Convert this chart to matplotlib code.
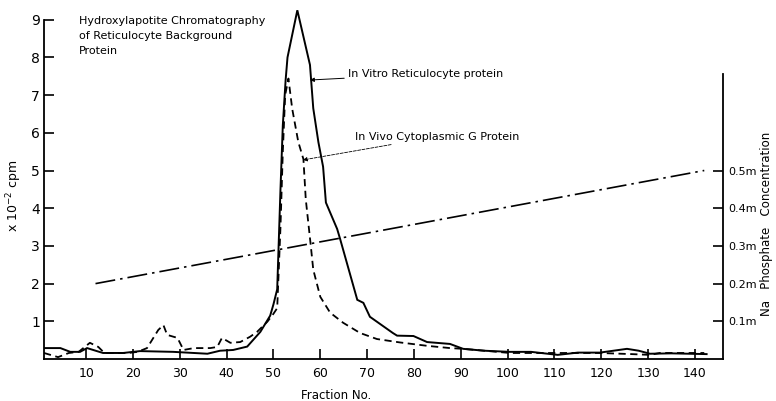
import matplotlib
matplotlib.use("Agg")
import matplotlib.pyplot as plt

# In Vitro Reticulocyte protein (solid)
vitro_frac = [1, 4.5, 6.6, 8.7, 10.2, 11.5, 13.6, 17.9, 21.5, 28.6, 35.9, 38.6, 41.4,
              44.4, 47.2, 49.3, 50.0, 50.8, 51.5, 52.0, 52.6, 53.0, 55.1, 57.8, 58.5,
              59.6, 60.6, 61.2, 63.6, 64.2, 67.9, 69.2, 70.6, 75.5, 76.4, 79.9, 82.8,
              87.7, 90.5, 95, 100.5, 105, 110.7, 115, 119.7, 125.5, 128, 130.4, 135, 142.5]
vitro_cpm = [0.29, 0.29, 0.19, 0.19, 0.29, 0.24, 0.16, 0.16, 0.21, 0.19, 0.14, 0.22, 0.24,
             0.33, 0.72, 1.15, 1.45, 1.85, 4.5, 6.2, 7.4, 8.0, 9.25, 7.8, 6.65,
             5.75, 5.1, 4.15, 3.45, 3.2, 1.57, 1.49, 1.12, 0.69, 0.62, 0.61, 0.45,
             0.40, 0.27, 0.22, 0.19, 0.19, 0.11, 0.17, 0.17, 0.27, 0.22, 0.14, 0.15, 0.13]

# In Vivo Cytoplasmic G Protein (dashed)
vivo_frac = [1, 4, 6.3, 8.4, 10.8, 12.6, 13.9, 16, 19, 21, 23, 25.4, 26.5, 27.3, 29.5,
             30.8, 33, 36.5, 38, 39, 40.8, 42.9, 45, 46.5, 48.7, 50.0, 50.8, 51.5, 52.0,
             52.5, 53.2, 54.0, 55.3, 56.4, 56.9, 57.2, 57.9, 58.5, 60.0, 62.1, 64.9,
             68.5, 72.1, 77, 82.8, 87.7, 90.5, 100.5, 110.7, 119.7, 126.5, 130.4, 132.5, 142]
vivo_cpm = [0.16, 0.05, 0.16, 0.19, 0.43, 0.32, 0.16, 0.16, 0.16, 0.19, 0.29, 0.77, 0.9,
            0.64, 0.56, 0.24, 0.29, 0.29, 0.32, 0.56, 0.43, 0.45, 0.59, 0.72, 0.99, 1.2,
            1.35, 3.5, 5.5, 7.0, 7.44, 6.64, 5.76, 5.3, 4.24, 3.89, 3.09, 2.37, 1.65,
            1.23, 0.96, 0.69, 0.53, 0.44, 0.35, 0.29, 0.27, 0.16, 0.16, 0.16, 0.13,
            0.11, 0.16, 0.16]

# Na phosphate gradient (dash-dot, right axis)
grad_frac = [12, 142]
grad_conc = [0.2, 0.5]

x_ticks = [10, 20, 30, 40, 50, 60, 70, 80, 90, 100, 110, 120, 130, 140]
y_ticks = [1, 2, 3, 4, 5, 6, 7, 8, 9]
r_ticks = [0.1, 0.2, 0.3, 0.4, 0.5]
r_labels = ["0.1m", "0.2m", "0.3m", "0.4m", "0.5m"]

fig = plt.figure(figsize=(7.76, 4.01), dpi=100)
ax = fig.add_axes([0.0567, 0.1047, 0.875, 0.8838])

ax.plot(vitro_frac, vitro_cpm, color="black", lw=1.4, solid_joinstyle="miter")
ax.plot(vivo_frac, vivo_cpm, color="black", lw=1.3, linestyle=(0, (4, 2.5)))

ax.set_xlim(1, 146)
ax.set_ylim(0, 9.4)
ax.set_xticks(x_ticks)
ax.set_yticks(y_ticks)
ax.tick_params(axis="both", direction="in", length=7, width=1.2, colors="black")
ax.tick_params(axis="x", labelsize=9, pad=6)
ax.tick_params(axis="y", labelsize=10, pad=3)
ax.spines["top"].set_visible(False)
ax.spines["right"].set_visible(False)
ax.spines["left"].set_bounds(0, 9)
for s in ["left", "bottom"]:
    ax.spines[s].set_linewidth(1.3)

ax.set_xlabel("Fraction No.", fontsize=8.5)
ax.xaxis.set_label_coords(0.43, -0.085)
ax.set_ylabel("x 10$^{-2}$ cpm", fontsize=9)
ax.yaxis.set_label_coords(-0.03, 0.46)

ax2 = ax.twinx()
ax2.set_position(ax.get_position())
ax2.plot(grad_frac, grad_conc, color="black", lw=1.2, linestyle=(0, (12, 3, 1.5, 3)))
ax2.set_ylim(0, 0.94)
ax2.set_yticks(r_ticks)
ax2.set_yticklabels(r_labels)
ax2.tick_params(axis="y", direction="in", length=7, width=1.2, labelsize=8, pad=4)
for s in ["top", "left", "bottom"]:
    ax2.spines[s].set_visible(False)
ax2.spines["right"].set_bounds(0, 0.757)
ax2.spines["right"].set_linewidth(1.3)
ax2.set_ylabel("Na   Phosphate   Concentration", fontsize=8.5, rotation=90)
ax2.yaxis.set_label_coords(1.055, 0.38)

ax.text(8.5, 9.1, "Hydroxylapotite Chromatography\nof Reticulocyte Background\nProtein",
        fontsize=8, va="top", ha="left", linespacing=1.6)

ax.annotate("In Vitro Reticulocyte protein", xy=(57.8, 7.4), xytext=(66.0, 7.56),
            fontsize=8, va="center", ha="left",
            arrowprops=dict(arrowstyle="-|>", color="black", lw=0.7,
                            mutation_scale=6, shrinkA=1, shrinkB=0))
ax.annotate("In Vivo Cytoplasmic G Protein", xy=(56.3, 5.28), xytext=(67.4, 5.9),
            fontsize=8, va="center", ha="left",
            arrowprops=dict(arrowstyle="-|>", color="black", lw=0.6, linestyle="--",
                            mutation_scale=6, shrinkA=1, shrinkB=0))

fig.savefig("out.png", dpi=100)
